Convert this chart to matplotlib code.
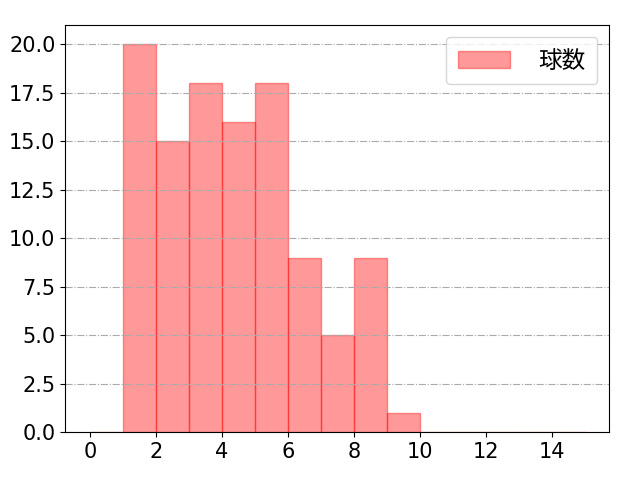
import numpy as np
import matplotlib.pyplot as plt

plt.rcParams['font.family'] = ['DejaVu Sans', 'Noto Sans CJK JP']
plt.rcParams['font.size'] = 15

bin_edges = list(range(0, 16))
bin_left = [1, 2, 3, 4, 5, 6, 7, 8, 9]
counts = [20, 15, 18, 16, 18, 9, 5, 9, 1]

fig, ax = plt.subplots(figsize=(6.4, 4.8), dpi=100)
fig.subplots_adjust(left=0.102, right=0.952, top=0.948, bottom=0.1)
ax.hist(bin_left, bins=bin_edges, weights=counts, color='red', alpha=0.4,
        edgecolor='red', label='球数')
ax.grid(axis='y', linestyle='-.', color='#aaaaaa')
ax.set_xticks(range(0, 15, 2))
ax.legend(fontsize=17, handlelength=2.2, handletextpad=1.2, borderpad=0.5)
fig.savefig('out.png')
